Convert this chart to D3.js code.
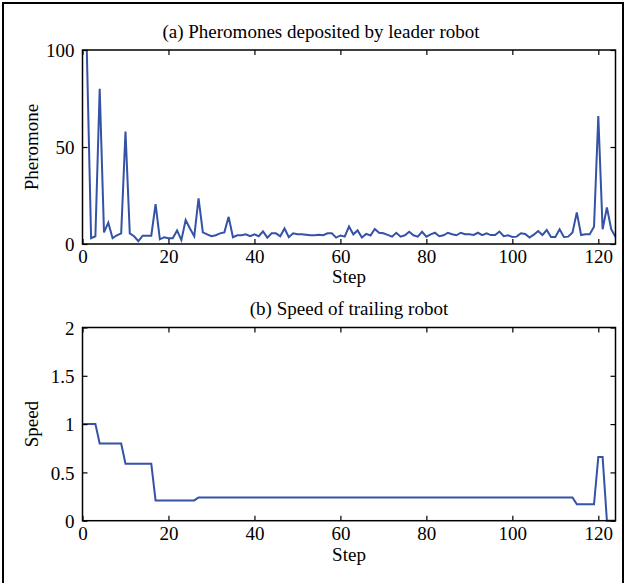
<!DOCTYPE html>
<html>
<head>
<meta charset="utf-8">
<script src="https://cdn.jsdelivr.net/npm/d3@7"></script>
<style>
  html, body { margin: 0; padding: 0; background: #fff; }
  svg { display: block; }
  text { font-family: "Liberation Serif", "Times New Roman", serif; fill: #000; }
</style>
</head>
<body>
<svg id="chart" width="627" height="583"></svg>
<script>
// ---------------- data ----------------
const pherSteps = d3.range(1, 125); // steps 1..124
const pheromone = [
  100, 3, 4, 80, 6, 11, 3, 4.5, 5.5, 58,          // 1-10
  5.5, 4, 1.5, 4.3, 4.3, 4.3, 20.5, 2.4, 3.5, 3,  // 11-20
  3, 7, 2, 12.4, 8, 4, 23.5, 6, 5, 4,             // 21-30
  4.5, 5.5, 6, 14, 3.5, 4.5, 4.5, 5, 4, 5,        // 31-40
  4, 6.5, 3.3, 5.5, 5.5, 4, 8, 3.5, 5.5, 5,       // 41-50
  5, 4.8, 4.5, 4.5, 4.8, 4.5, 5.5, 5.5, 3.3, 4.4, // 51-60
  3.8, 9, 5, 7, 3.4, 5.2, 4.4, 7.7, 5.8, 5.5,     // 61-70
  4.7, 3.8, 5.8, 3.8, 4.5, 6.3, 4.5, 3.8, 6.3, 3.8, // 71-80
  5, 5.8, 4, 4.5, 5.8, 5, 4.5, 5.8, 5, 5,         // 81-90
  4.7, 5.8, 4.6, 5.5, 4.6, 4.6, 6.4, 4, 4.5, 3.6, // 91-100
  3.8, 5.5, 5.2, 3.3, 4.8, 6.7, 4.6, 7.2, 3.6, 3.6, // 101-110
  7.6, 3.6, 3.8, 5.9, 16.3, 4.6, 5, 5, 8.9, 66,   // 111-120
  7.6, 18.9, 7.6, 3.6                              // 121-124
];

const speedSteps = d3.range(0, 125); // steps 0..124
const speed = [
  1, 1, 1, 1, 0.8, 0.8, 0.8, 0.8, 0.8, 0.8,                       // 0-9
  0.59, 0.59, 0.59, 0.59, 0.59, 0.59, 0.59, 0.21, 0.21, 0.21,     // 10-19
  0.21, 0.21, 0.21, 0.21, 0.21, 0.21, 0.21, 0.24, 0.24, 0.24,     // 20-29
  0.24, 0.24, 0.24, 0.24, 0.24, 0.24, 0.24, 0.24, 0.24, 0.24,     // 30-39
  0.24, 0.24, 0.24, 0.24, 0.24, 0.24, 0.24, 0.24, 0.24, 0.24,     // 40-49
  0.24, 0.24, 0.24, 0.24, 0.24, 0.24, 0.24, 0.24, 0.24, 0.24,     // 50-59
  0.24, 0.24, 0.24, 0.24, 0.24, 0.24, 0.24, 0.24, 0.24, 0.24,     // 60-69
  0.24, 0.24, 0.24, 0.24, 0.24, 0.24, 0.24, 0.24, 0.24, 0.24,     // 70-79
  0.24, 0.24, 0.24, 0.24, 0.24, 0.24, 0.24, 0.24, 0.24, 0.24,     // 80-89
  0.24, 0.24, 0.24, 0.24, 0.24, 0.24, 0.24, 0.24, 0.24, 0.24,     // 90-99
  0.24, 0.24, 0.24, 0.24, 0.24, 0.24, 0.24, 0.24, 0.24, 0.24,     // 100-109
  0.24, 0.24, 0.24, 0.24, 0.24, 0.17, 0.17, 0.17, 0.17, 0.17,     // 110-119
  0.66, 0.66, 0, 0, 0                                             // 120-124
];

const xTicks = [0, 20, 40, 60, 80, 100, 120];
const pherTicks = [0, 50, 100];
const speedTicks = [0, 0.5, 1, 1.5, 2];

const titleA = "(a) Pheromones deposited by leader robot";
const titleB = "(b) Speed of trailing robot";
const xLabel = "Step";
const yLabelA = "Pheromone";
const yLabelB = "Speed";

// ---------------- layout ----------------
const svg = d3.select("#chart");
const FS = 19;
const lineColor = "#3452a6";

// outer frame
svg.append("rect")
  .attr("x", 3).attr("y", 3).attr("width", 620).attr("height", 595)
  .attr("fill", "none").attr("stroke", "#000").attr("stroke-width", 2);

const left = 82.5, right = 615.5;
const x = d3.scaleLinear().domain([0, 124]).range([left, right]);

function panel(cfg) {
  const y = d3.scaleLinear().domain(cfg.yDomain).range([cfg.bottom, cfg.top]);
  const g = svg.append("g");

  // line
  const line = d3.line().x(d => x(d[0])).y(d => y(d[1]));
  g.append("path")
    .datum(cfg.steps.map((s, i) => [s, cfg.values[i]]))
    .attr("d", line)
    .attr("fill", "none")
    .attr("stroke", lineColor)
    .attr("stroke-width", 2)
    .attr("stroke-linejoin", "miter");

  const xb = g.append("g").attr("transform", `translate(0,${cfg.bottom})`)
    .call(d3.axisBottom(x).tickValues(xTicks).tickSize(-5).tickSizeOuter(0).tickPadding(6).tickFormat(d3.format("d")));
  const xt = g.append("g").attr("transform", `translate(0,${cfg.top})`)
    .call(d3.axisTop(x).tickValues(xTicks).tickSize(-5).tickSizeOuter(0).tickFormat(""));
  const yl = g.append("g").attr("transform", `translate(${left},0)`)
    .call(d3.axisLeft(y).tickValues(cfg.yTicks).tickSize(-5).tickSizeOuter(0).tickPadding(8).tickFormat(d => String(d)));
  const yr = g.append("g").attr("transform", `translate(${right},0)`)
    .call(d3.axisRight(y).tickValues(cfg.yTicks).tickSize(-5).tickSizeOuter(0).tickFormat(""));

  [xb, xt, yl, yr].forEach(a => {
    a.select(".domain").remove();
    a.selectAll("line").attr("stroke", "#000").attr("stroke-width", 1.2);
    a.selectAll("text").attr("font-size", FS).attr("font-family", "Liberation Serif, serif").attr("fill", "#000");
  });
  yl.selectAll("text").attr("dy", "0.35em");

  g.append("rect")
    .attr("x", left).attr("y", cfg.top)
    .attr("width", right - left).attr("height", cfg.bottom - cfg.top)
    .attr("fill", "none").attr("stroke", "#000").attr("stroke-width", 1.5);

  g.append("text").attr("x", cfg.titleX).attr("y", cfg.titleY)
    .attr("text-anchor", "middle").attr("font-size", FS).text(cfg.title);
  g.append("text").attr("x", (left + right) / 2).attr("y", cfg.xLabelY)
    .attr("text-anchor", "middle").attr("font-size", FS).text(xLabel);
  g.append("text")
    .attr("transform", `translate(38,${(cfg.top + cfg.bottom) / 2}) rotate(-90)`)
    .attr("text-anchor", "middle").attr("font-size", FS).text(cfg.yLabel);
}

panel({
  top: 50, bottom: 244, yDomain: [0, 100], yTicks: pherTicks,
  steps: pherSteps, values: pheromone,
  title: titleA, titleX: 321, titleY: 38, xLabelY: 283, yLabel: yLabelA
});
panel({
  top: 327.5, bottom: 520.7, yDomain: [0, 2], yTicks: speedTicks,
  steps: speedSteps, values: speed,
  title: titleB, titleX: 349, titleY: 315, xLabelY: 561, yLabel: yLabelB
});
</script>
</body>
</html>
